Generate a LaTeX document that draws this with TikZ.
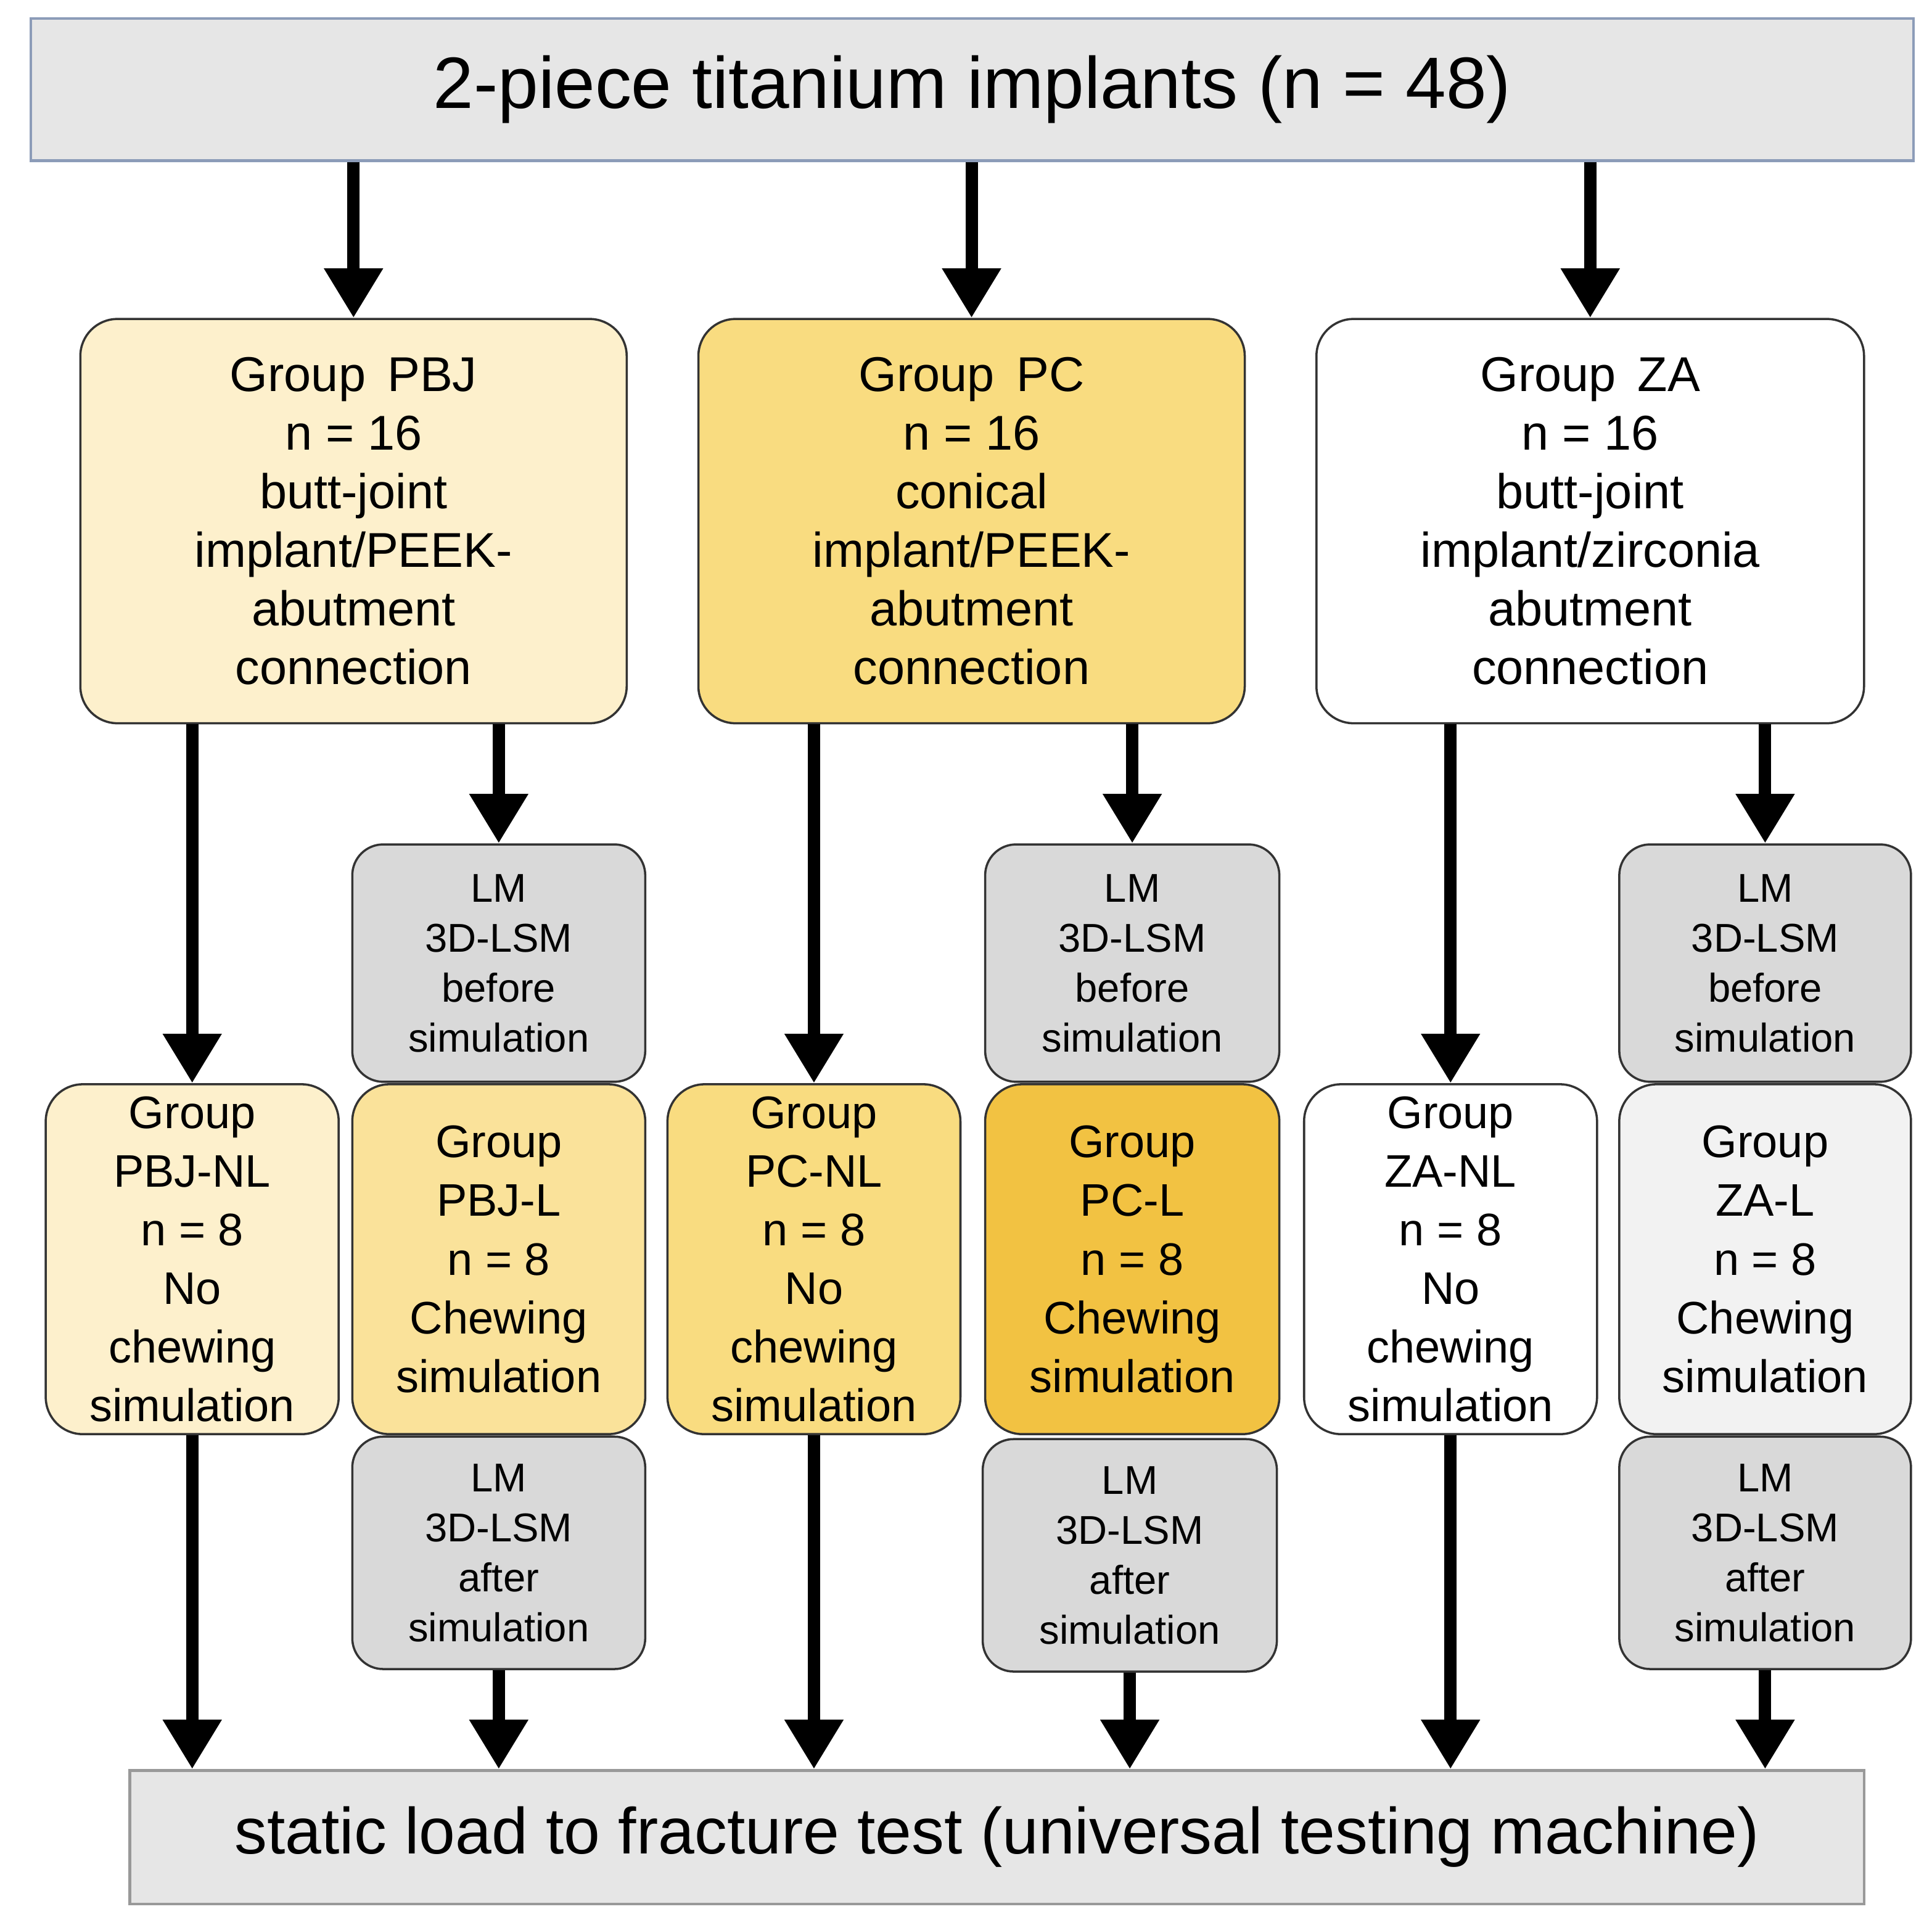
\documentclass[tikz,border=0pt]{standalone}
\usepackage{fontspec}
\setmainfont{Liberation Sans}
\usetikzlibrary{arrows.meta}
\definecolor{grayf}{HTML}{E6E6E6}
\definecolor{lmf}{HTML}{D9D9D9}
\definecolor{y1}{HTML}{FDF0CC}
\definecolor{y2}{HTML}{FAE29A}
\definecolor{y3}{HTML}{F9DC80}
\definecolor{y4}{HTML}{F2C242}
\definecolor{z2}{HTML}{F2F2F2}
\definecolor{topb}{HTML}{8C9CB8}
\begin{document}
\begin{tikzpicture}[x=0.02cm,y=-0.02cm,
  wh/.style 2 args={minimum width=#1*0.02cm, minimum height=#2*0.02cm, inner sep=0pt},
  bar/.style={draw=#1, line width=1.2pt, fill=grayf},
  grp/.style={draw=black!80, line width=1pt, rounded corners=0.6cm, align=center, font=\fontsize{21}{27}\selectfont},
  big/.style={font=\fontsize{22.5}{27}\selectfont},
  lm/.style={draw=black!80, line width=1pt, rounded corners=0.5cm, align=center, fill=lmf, font=\fontsize{18.5}{23}\selectfont},
  arr/.style={line width=0.2cm, -{Triangle[length=0.8cm,width=0.9cm]}}]
\useasboundingbox (0,0) rectangle (1563,1557);
\node[bar=topb, wh={1523}{115}, font=\fontsize{33.5}{36}\selectfont] (top) at (786.5,72.5) {2-piece titanium implants (n = 48)};
\node[bar=black!40, wh={1403}{108}, font=\fontsize{30}{34}\selectfont] (bot) at (806.5,1486) {static load to fracture test (universal testing machine)};

\node[grp, big, fill=y1, wh={442}{327}] (pbj) at (286,421.5) {Group\, PBJ\\n = 16\\butt-joint\\implant/PEEK-\\abutment\\connection};
\node[grp, big, fill=y3, wh={442}{327}] (pc) at (786,421.5) {Group\, PC\\n = 16\\conical\\implant/PEEK-\\abutment\\connection};
\node[grp, big, fill=white, wh={443}{327}] (za) at (1286.5,421.5) {Group\, ZA\\n = 16\\butt-joint\\implant/zirconia\\abutment\\connection};

\node[lm, wh={237}{192}] (b1) at (403.5,779) {LM\\3D-LSM\\before\\simulation};
\node[lm, wh={238}{192}] (b2) at (916,779) {LM\\3D-LSM\\before\\simulation};
\node[lm, wh={236}{192}] (b3) at (1428,779) {LM\\3D-LSM\\before\\simulation};

\node[grp, fill=y1, wh={237}{283}] (s1) at (155.5,1018.5) {Group\\PBJ-NL\\n = 8\\No\\chewing\\simulation};
\node[grp, fill=y2, wh={237}{283}] (s2) at (403.5,1018.5) {Group\\PBJ-L\\n = 8\\Chewing\\simulation};
\node[grp, fill=y3, wh={237}{283}] (s3) at (658.5,1018.5) {Group\\PC-NL\\n = 8\\No\\chewing\\simulation};
\node[grp, fill=y4, wh={238}{283}] (s4) at (916,1018.5) {Group\\PC-L\\n = 8\\Chewing\\simulation};
\node[grp, fill=white, wh={237}{283}] (s5) at (1173.5,1018.5) {Group\\ZA-NL\\n = 8\\No\\chewing\\simulation};
\node[grp, fill=z2, wh={236}{283}] (s6) at (1428,1018.5) {Group\\ZA-L\\n = 8\\Chewing\\simulation};

\node[lm, wh={237}{188}] (a1) at (403.5,1256) {LM\\3D-LSM\\after\\simulation};
\node[lm, wh={238}{188}] (a2) at (914,1258) {LM\\3D-LSM\\after\\simulation};
\node[lm, wh={236}{188}] (a3) at (1428,1256) {LM\\3D-LSM\\after\\simulation};

\foreach \n in {pbj,pc,za} \draw[arr] (top.south -| \n) -- (\n.north);
\draw[arr] (pbj.south -| s1) -- (s1.north);
\draw[arr] (pc.south -| s3) -- (s3.north);
\draw[arr] (za.south -| s5) -- (s5.north);
\draw[arr] (pbj.south -| b1) -- (b1.north);
\draw[arr] (pc.south -| b2) -- (b2.north);
\draw[arr] (za.south -| b3) -- (b3.north);
\foreach \n in {s1,s3,s5,a1,a2,a3} \draw[arr] (\n.south) -- (bot.north -| \n);
\end{tikzpicture}
\end{document}
